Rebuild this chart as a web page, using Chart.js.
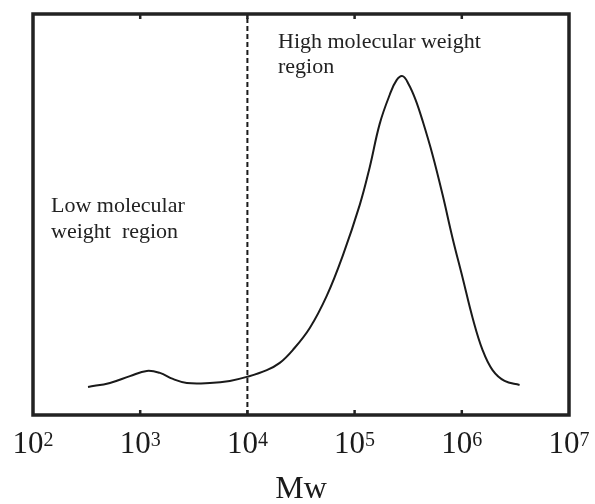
<!DOCTYPE html>
<html>
<head>
<meta charset="utf-8">
<script src="https://cdn.jsdelivr.net/npm/chart.js@4.4.0/dist/chart.umd.min.js"></script>
<style>
  body { margin: 0; background: #fff; }
  #wrap { width: 595px; height: 504px; }
</style>
</head>
<body>
<div id="wrap"><canvas id="myChart" width="595" height="504"></canvas></div>
<script>
// Datos de la curva (Mw, intensidad relativa)
const mw = [326, 522, 802, 1153, 1528, 2018, 2723, 4467, 6855, 9863,
  15170, 20040, 26490, 38190, 54950, 77450, 111700, 138400, 171400, 212300,
  246600, 280500, 319200, 370700, 431500, 534600, 662200, 820400, 1016000, 1262000,
  1563000, 1936000, 2506000, 3459000];
const intensity = [7.0, 8.0, 9.7, 11.0, 10.5, 9.0, 8.0, 8.0, 8.5, 9.5,
  11.2, 13.0, 16.2, 21.7, 29.7, 39.7, 52.4, 61.8, 72.6, 79.8,
  83.5, 84.5, 82.5, 78.6, 73.3, 64.8, 54.9, 44.1, 34.3, 24.2,
  16.2, 11.2, 8.5, 7.5];

// Línea divisoria en 10^4
const limitX = [10000, 10000];
const limitY = [0, 100];

// Marcas del eje x: base y exponente
const tickValues = [100, 1000, 10000, 100000, 1000000, 10000000];
const tickBase = ['10', '10', '10', '10', '10', '10'];
const tickExp = ['2', '3', '4', '5', '6', '7'];

const serif = "'Liberation Serif', 'Times New Roman', serif";

// Plugin para el marco, las marcas, las etiquetas y los textos
const framePlugin = {
  id: 'frame',
  afterDraw(chart) {
    const ctx = chart.ctx;
    const a = chart.chartArea;
    const x = chart.scales.x;
    ctx.save();
    ctx.strokeStyle = '#222';
    ctx.lineWidth = 2.5;
    tickValues.slice(1, -1).forEach(function(v) {
      const px = x.getPixelForValue(v);
      ctx.beginPath();
      ctx.moveTo(px, a.bottom);
      ctx.lineTo(px, a.bottom - 5);
      ctx.moveTo(px, a.top);
      ctx.lineTo(px, a.top + 5);
      ctx.stroke();
    });
    ctx.lineWidth = 3.5;
    ctx.strokeRect(a.left, a.top, a.right - a.left, a.bottom - a.top);

    // etiquetas 10^n con superíndice
    ctx.fillStyle = '#1a1a1a';
    ctx.textBaseline = 'alphabetic';
    ctx.textAlign = 'left';
    tickValues.forEach(function(v, i) {
      const px = x.getPixelForValue(v);
      ctx.font = '31px ' + serif;
      const wb = ctx.measureText(tickBase[i]).width;
      ctx.font = '20px ' + serif;
      const we = ctx.measureText(tickExp[i]).width;
      const start = px - (wb + we) / 2;
      ctx.font = '31px ' + serif;
      ctx.fillText(tickBase[i], start, a.bottom + 38);
      ctx.font = '20px ' + serif;
      ctx.fillText(tickExp[i], start + wb, a.bottom + 31);
    });

    ctx.fillStyle = '#222';
    ctx.font = '22px ' + serif;
    ctx.fillText('High molecular weight', 278, 48);
    ctx.fillText('region', 278, 73);
    ctx.fillText('Low molecular', 51, 212);
    ctx.fillText('weight  region', 51, 238);
    ctx.restore();
  }
};

const ctx = document.getElementById('myChart').getContext('2d');
window.myChart = new Chart(ctx, {
  type: 'line',
  data: {
    datasets: [{
      data: mw.map(function(v, i) { return { x: v, y: intensity[i] }; }),
      borderColor: '#1a1a1a',
      borderWidth: 2,
      pointRadius: 0,
      tension: 0.4,
      fill: false
    }, {
      data: limitX.map(function(v, i) { return { x: v, y: limitY[i] }; }),
      borderColor: '#1a1a1a',
      borderWidth: 2,
      borderDash: [5, 3],
      pointRadius: 0,
      fill: false
    }]
  },
  options: {
    responsive: false,
    animation: false,
    layout: { padding: { left: 33, right: 26, top: 14, bottom: 0 } },
    plugins: {
      legend: { display: false },
      tooltip: { enabled: false }
    },
    scales: {
      x: {
        type: 'logarithmic',
        min: 100,
        max: 10000000,
        afterBuildTicks: function(scale) {
          scale.ticks = tickValues.map(function(v) { return { value: v }; });
        },
        afterFit: function(scale) {
          scale.height = 89;
          scale.paddingLeft = 0;
          scale.paddingRight = 0;
        },
        grid: { display: false },
        border: { display: false },
        ticks: {
          autoSkip: false,
          maxRotation: 0,
          callback: function() { return ''; }
        },
        title: {
          display: true,
          text: 'Mw',
          color: '#1a1a1a',
          font: { family: serif, size: 32 },
          padding: { top: 4, bottom: -5 }
        }
      },
      y: {
        display: false,
        min: 0,
        max: 100
      }
    }
  },
  plugins: [framePlugin]
});
</script>
</body>
</html>
